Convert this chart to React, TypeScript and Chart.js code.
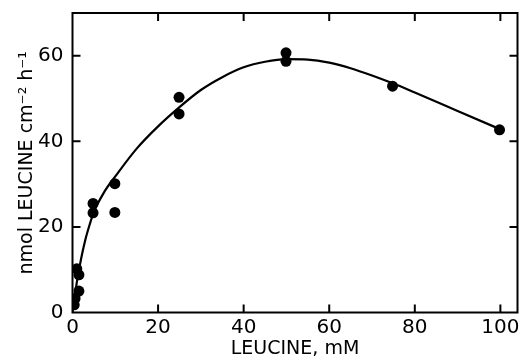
import React, { useEffect, useRef } from "react";
import { Chart, registerables } from "chart.js";

Chart.register(...registerables);

// Measured data points (x: leucine mM, y: nmol cm^-2 h^-1)
const pointX = [0.4, 0.6, 1.0, 1.5, 1.5, 4.8, 4.8, 9.9, 9.9, 24.9, 24.9, 49.9, 49.9, 74.8, 99.8];
const pointY = [1.8, 3.3, 10.2, 8.8, 5.0, 25.5, 23.3, 30.1, 23.4, 50.3, 46.4, 60.7, 58.7, 52.9, 42.7];

// Fitted curve
const curveX = [0, 1, 2, 3, 4, 5, 7.5, 10, 15, 20, 25, 30, 35, 40, 45, 50, 55, 60, 65, 70, 75, 80, 90, 100];
const curveY = [0, 7, 12.5, 17, 20.5, 23.5, 28.3, 31.8, 38.3, 43.5, 48, 52, 55, 57.3, 58.6, 59.2, 59.1, 58.4, 57.1, 55.4, 53.5, 51.4, 47.1, 42.8];

const xTicks = [0, 20, 40, 60, 80, 100];
const yTicks = [0, 20, 40, 60];

const FONT = "'DejaVu Sans', sans-serif";

const framePlugin = {
  id: "frame",
  afterDatasetsDraw(chart: any) {
    const { ctx, chartArea: a, scales } = chart;
    ctx.save();
    ctx.strokeStyle = "#000";
    ctx.lineWidth = 2;
    ctx.strokeRect(a.left, a.top, a.right - a.left, a.bottom - a.top);
    const L = 8;
    ctx.beginPath();
    for (const v of xTicks) {
      if (v === 0) continue;
      const px = scales.x.getPixelForValue(v);
      ctx.moveTo(px, a.bottom);
      ctx.lineTo(px, a.bottom - L);
      ctx.moveTo(px, a.top);
      ctx.lineTo(px, a.top + L);
    }
    for (const v of yTicks) {
      if (v === 0) continue;
      const py = scales.y.getPixelForValue(v);
      ctx.moveTo(a.left, py);
      ctx.lineTo(a.left + L, py);
      ctx.moveTo(a.right, py);
      ctx.lineTo(a.right - L, py);
    }
    ctx.stroke();
    ctx.restore();
  },
};

export default function App() {
  const ref = useRef<HTMLCanvasElement>(null);
  useEffect(() => {
    if (!ref.current) return;
    const chart = new Chart(ref.current, {
      type: "scatter",
      data: {
        datasets: [
          {
            data: curveX.map((x, i) => ({ x, y: curveY[i] })),
            showLine: true,
            borderColor: "#000",
            borderWidth: 2.2,
            pointRadius: 0,
            cubicInterpolationMode: "monotone",
            fill: false,
          } as any,
          {
            data: pointX.map((x, i) => ({ x, y: pointY[i] })),
            backgroundColor: "#000",
            borderColor: "#000",
            pointRadius: 5.5,
            borderWidth: 0,
          },
        ],
      },
      options: {
        animation: false,
        responsive: false,
        maintainAspectRatio: false,
        layout: { autoPadding: false, padding: { top: 13, right: 1.5, left: 0, bottom: 0 } },
        plugins: { legend: { display: false }, tooltip: { enabled: false } },
        scales: {
          x: {
            type: "linear",
            min: 0,
            max: 104,
            grid: { display: false, drawTicks: false },
            border: { display: false },
            ticks: {
              stepSize: 20,
              includeBounds: false,
              color: "#000",
              padding: 3,
              font: { family: FONT, size: 20 },
            },
            title: {
              display: true,
              text: "LEUCINE, mM",
              color: "#000",
              padding: { top: 0, bottom: 0 },
              font: { family: FONT, size: 19 },
            },
            afterFit(scale: any) {
              scale.height = 47.5;
              scale.paddingLeft = 0;
              scale.paddingRight = 0;
            },
          },
          y: {
            type: "linear",
            min: 0,
            max: 70,
            grid: { display: false, drawTicks: false },
            border: { display: false },
            ticks: {
              stepSize: 20,
              includeBounds: false,
              color: "#000",
              padding: 9,
              font: { family: FONT, size: 20 },
            },
            title: {
              display: true,
              text: "nmol LEUCINE cm⁻² h⁻¹",
              color: "#000",
              padding: { top: 16, bottom: 0 },
              font: { family: FONT, size: 19 },
            },
            afterFit(scale: any) {
              scale.width = 72.5;
              scale.paddingTop = 0;
              scale.paddingBottom = 0;
            },
          },
        },
      },
      plugins: [framePlugin],
    });
    return () => chart.destroy();
  }, []);
  return (
    <div style={{ position: "fixed", left: 0, top: 0, width: 519, height: 360, background: "#fff" }}>
      <canvas ref={ref} width={519} height={360} style={{ width: 519, height: 360 }} />
    </div>
  );
}
